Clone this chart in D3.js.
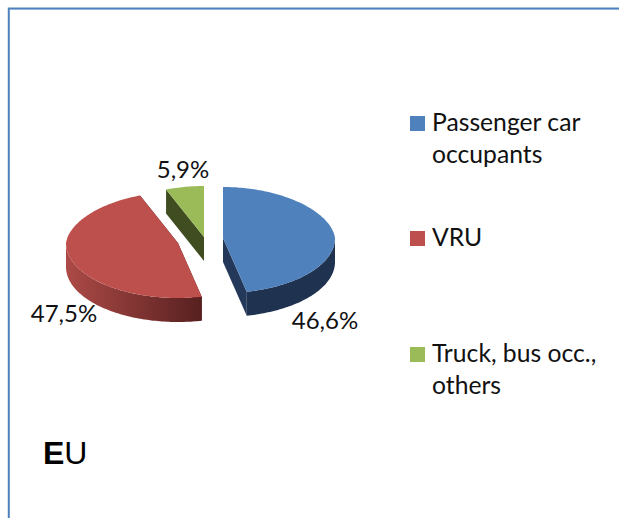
<!DOCTYPE html>
<html><head><meta charset="utf-8">
<script src="https://cdnjs.cloudflare.com/ajax/libs/d3/7.8.5/d3.min.js"></script>
<style>html,body{margin:0;padding:0;background:#fff;overflow:hidden}svg{display:block}text{font-family:Lato,"Noto Sans",sans-serif;fill:#111}</style>
</head><body><svg id="c" width="619" height="518"></svg>
<script>
const categories = ["Passenger car occupants", "VRU", "Truck, bus occ., others"];
const values = [46.6, 47.5, 5.9];
const valueLabels = ["46,6%", "47,5%", "5,9%"];
const legendLines = [["Passenger car", "occupants"], ["VRU"], ["Truck, bus occ.,", "others"]];
const colors = ["#4f81bd", "#bd4f4c", "#9bbb59"];
const wallFrom = ["#24395a", "#ad4a47", "#3f4d20"];
const wallTo = ["#1f3350", "#56201f", "#3f4d20"];

const centers = [[223, 238], [178, 243], [204, 237]];
const labelPos = [[325, 329], [64, 322], [183, 178]];
const rx = 112, ryBack = 51, ryFront = 55, depth = 24, backNarrow = 0.07;

const svg = d3.select("#c");
const defs = svg.append("defs");
const pie = d3.pie().sort(null).value(d => d).startAngle(0).endAngle(2 * Math.PI);
const arcs = pie(values);

function pt(i, a, dz = 0) {
  const [cx, cy] = centers[i];
  const c = Math.cos(a);
  const w = rx * (1 - backNarrow * Math.max(c, 0));
  return [cx + w * Math.sin(a), cy - c * (c > 0 ? ryBack : ryFront) + dz];
}
function samples(a0, a1) {
  const n = Math.max(2, Math.ceil((a1 - a0) / 0.02));
  return d3.range(n + 1).map(k => a0 + (a1 - a0) * k / n);
}
const line = d3.line();

// frame
svg.append("path").attr("d", "M9,518V9H619").attr("fill", "none").attr("stroke", "#a9c5e8").attr("stroke-width", 2);
svg.append("path").attr("d", "M8.7,518V8.3H619").attr("fill", "none").attr("stroke", "#4f81bd").attr("stroke-width", 1.8);

arcs.forEach((d, i) => {
  const gid = "wall" + i;
  const grad = defs.append("linearGradient").attr("id", gid).attr("gradientUnits", "userSpaceOnUse")
    .attr("x1", centers[i][0] - rx).attr("x2", centers[i][0] + 25).attr("y1", 0).attr("y2", 0);
  grad.append("stop").attr("offset", 0).attr("stop-color", wallFrom[i]);
  grad.append("stop").attr("offset", 1).attr("stop-color", wallTo[i]);

  const g = svg.append("g");
  const c = centers[i];
  // straight cut faces
  [d.startAngle, d.endAngle].forEach(a => {
    const p = pt(i, a);
    g.append("path").attr("d", line([c, p, [p[0], p[1] + depth], [c[0], c[1] + depth]]))
      .attr("fill", wallTo[i] === "#56201f" ? "#56201f" : wallFrom[i]);
  });
  // outer wall on the front half
  const a0 = Math.max(d.startAngle, Math.PI / 2), a1 = Math.min(d.endAngle, 3 * Math.PI / 2);
  if (a1 > a0) {
    const s = samples(a0, a1);
    g.append("path").attr("d", line(s.map(a => pt(i, a)).concat(s.slice().reverse().map(a => pt(i, a, depth)))))
      .attr("fill", `url(#${gid})`);
  }
  // top face
  g.append("path").attr("d", line([c].concat(samples(d.startAngle, d.endAngle).map(a => pt(i, a)))) + "Z")
    .attr("fill", colors[i]);
});

svg.selectAll("text.value").data(valueLabels).join("text").attr("class", "value")
  .attr("x", (d, i) => labelPos[i][0]).attr("y", (d, i) => labelPos[i][1])
  .attr("text-anchor", "middle").attr("font-size", 24).text(d => d);

// legend
const legendY = [116, 231, 347];
categories.forEach((name, i) => {
  svg.append("rect").attr("x", 410).attr("y", legendY[i]).attr("width", 15).attr("height", 15).attr("fill", colors[i]);
  legendLines[i].forEach((t, k) => {
    svg.append("text").attr("x", 432).attr("y", legendY[i] + 15 + k * 32).attr("font-size", 24.7).text(t);
  });
});

const eu = svg.append("text").attr("x", 43).attr("y", 464).attr("font-size", 32)
  .style("font-family", "'Liberation Sans',Arial,sans-serif").style("fill", "#000");
eu.append("tspan").attr("font-weight", 700).text("E");
eu.append("tspan").text("U");
</script></body></html>
